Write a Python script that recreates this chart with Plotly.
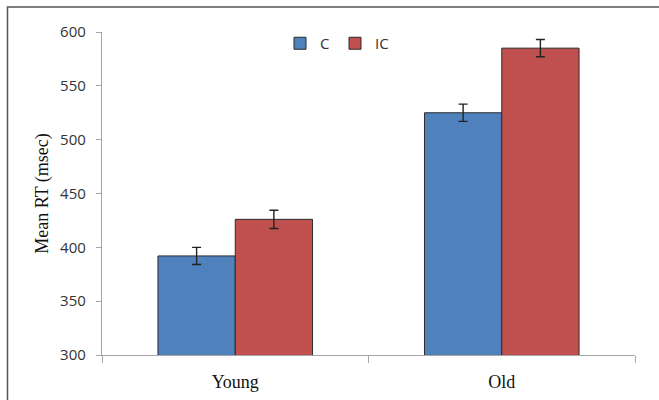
import plotly.graph_objects as go

groups = ["Young", "Old"]
series_names = ["C", "IC"]
c_values = [392, 525]
ic_values = [426, 585]
c_err = [8, 8]
ic_err = [8.5, 8]
y_ticks = [300, 350, 400, 450, 500, 550, 600]

W, H = 659, 400
L, R, T, B = 102, 24, 32, 45
pw, ph = W - L - R, H - T - B

fig = go.Figure()
fig.add_trace(go.Bar(
    x=groups, y=c_values, name=series_names[0],
    marker=dict(color="#4F81BD", line=dict(color="#2b2b2b", width=1)),
    error_y=dict(type="data", array=c_err, color="#222222", thickness=1.4, width=4.5),
))
fig.add_trace(go.Bar(
    x=groups, y=ic_values, name=series_names[1],
    marker=dict(color="#C0504D", line=dict(color="#2b2b2b", width=1)),
    error_y=dict(type="data", array=ic_err, color="#222222", thickness=1.4, width=4.5),
))

fx0 = (7.5 - L) / pw
fy1 = (H - B - 7) / ph
fig.add_shape(type="rect", xref="paper", yref="paper",
              x0=fx0, x1=1.5, y0=-0.5, y1=fy1,
              line=dict(color="#555555", width=1.5), fillcolor="rgba(0,0,0,0)")

fig.update_layout(
    width=W, height=H,
    margin=dict(l=L, r=R, t=T, b=B, pad=0, autoexpand=False),
    paper_bgcolor="white", plot_bgcolor="white",
    barmode="group", bargap=0.42, bargroupgap=0,
    showlegend=True,
    legend=dict(orientation="h", x=(280 - L) / pw, y=(H - B - 27) / ph,
                xanchor="left", yanchor="top",
                font=dict(family="Open Sans, Liberation Sans, sans-serif", size=15, color="#333333"),
                bgcolor="rgba(0,0,0,0)", itemwidth=30, tracegroupgap=0,
                entrywidth=10, entrywidthmode="pixels"),
    xaxis=dict(
        showline=True, linecolor="#A6A6A6", linewidth=1.3, automargin=False,
        ticks="outside", tickson="boundaries", ticklen=7, tickcolor="#A6A6A6", tickwidth=1.3,
        showgrid=False, ticklabelstandoff=10,
        tickfont=dict(family="Liberation Serif, Times New Roman, serif", size=18, color="#111111"),
    ),
    yaxis=dict(
        range=[300, 600], tickvals=y_ticks, automargin=False,
        showline=True, linecolor="#A6A6A6", linewidth=1.3,
        ticks="outside", ticklen=5, tickcolor="#A6A6A6", tickwidth=1.3,
        showgrid=False, zeroline=False, ticklabelstandoff=7,
        tickfont=dict(family="Open Sans, Liberation Sans, sans-serif", size=15, color="#333333"),
        title=dict(text="Mean RT (msec)", standoff=6,
                   font=dict(family="Liberation Serif, Times New Roman, serif", size=18, color="#111111")),
    ),
)

fig.write_html("out.html", config={"displayModeBar": False},
               post_script="document.body.style.margin='0';")
